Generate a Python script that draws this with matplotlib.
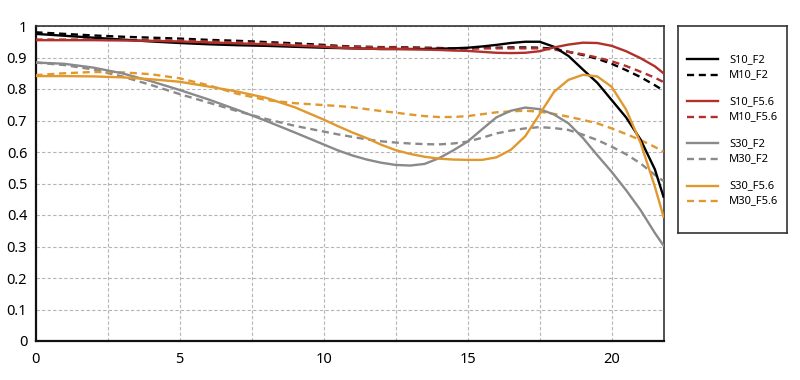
import numpy as np
import matplotlib
matplotlib.use("Agg")
import matplotlib.pyplot as plt
from matplotlib.ticker import MultipleLocator
from matplotlib.lines import Line2D

plt.rcParams["font.family"] = ["Noto Sans", "DejaVu Sans"]

# image height (mm) sampled along the field
x = [0, 1, 2, 3, 4, 5, 6, 7, 8, 9, 10, 10.5, 11, 11.5, 12, 12.5, 13, 13.5, 14, 14.5,
     15, 15.5, 16, 16.5, 17, 17.5, 18, 18.5, 19, 19.5, 20, 20.5, 21, 21.5, 21.8]

s10_f2 = [0.975, 0.969, 0.963, 0.957, 0.951, 0.946, 0.942, 0.939, 0.937, 0.934, 0.931,
          0.930, 0.929, 0.928, 0.927, 0.927, 0.927, 0.927, 0.928, 0.929, 0.931, 0.935,
          0.940, 0.946, 0.950, 0.950, 0.934, 0.905, 0.862, 0.820, 0.765, 0.710, 0.640,
          0.545, 0.458]
m10_f2 = [0.980, 0.975, 0.970, 0.966, 0.963, 0.960, 0.956, 0.953, 0.949, 0.945, 0.940,
          0.937, 0.935, 0.934, 0.933, 0.933, 0.932, 0.931, 0.930, 0.929, 0.929, 0.930,
          0.931, 0.932, 0.932, 0.931, 0.928, 0.918, 0.908, 0.896, 0.880, 0.860, 0.838,
          0.812, 0.795]
s10_f56 = [0.955, 0.955, 0.955, 0.954, 0.953, 0.951, 0.948, 0.945, 0.942, 0.938, 0.934,
           0.931, 0.929, 0.928, 0.927, 0.927, 0.926, 0.925, 0.924, 0.922, 0.921, 0.918,
           0.915, 0.914, 0.915, 0.920, 0.932, 0.941, 0.947, 0.946, 0.937, 0.920, 0.898,
           0.872, 0.850]
m10_f56 = [0.957, 0.957, 0.957, 0.956, 0.955, 0.954, 0.951, 0.948, 0.945, 0.941, 0.937,
           0.935, 0.934, 0.933, 0.932, 0.932, 0.931, 0.930, 0.930, 0.929, 0.929, 0.929,
           0.929, 0.929, 0.929, 0.929, 0.925, 0.918, 0.910, 0.900, 0.888, 0.873, 0.855,
           0.836, 0.822]
s30_f2 = [0.884, 0.880, 0.868, 0.850, 0.825, 0.797, 0.767, 0.734, 0.699, 0.662, 0.624,
          0.605, 0.589, 0.576, 0.566, 0.559, 0.557, 0.562, 0.580, 0.605, 0.633, 0.672,
          0.710, 0.731, 0.741, 0.736, 0.719, 0.691, 0.645, 0.590, 0.537, 0.479, 0.416,
          0.343, 0.303]
m30_f2 = [0.884, 0.876, 0.862, 0.840, 0.813, 0.784, 0.757, 0.730, 0.705, 0.683, 0.665,
          0.656, 0.648, 0.640, 0.634, 0.630, 0.627, 0.625, 0.624, 0.627, 0.633, 0.645,
          0.659, 0.668, 0.675, 0.679, 0.676, 0.670, 0.655, 0.638, 0.617, 0.593, 0.564,
          0.527, 0.508]
s30_f56 = [0.841, 0.841, 0.840, 0.837, 0.831, 0.823, 0.808, 0.792, 0.772, 0.742, 0.703,
           0.682, 0.662, 0.644, 0.623, 0.606, 0.594, 0.585, 0.579, 0.576, 0.575, 0.575,
           0.583, 0.607, 0.650, 0.720, 0.791, 0.829, 0.845, 0.840, 0.807, 0.735, 0.630,
           0.490, 0.395]
m30_f56 = [0.844, 0.850, 0.854, 0.853, 0.847, 0.834, 0.812, 0.785, 0.765, 0.755, 0.749,
           0.746, 0.742, 0.736, 0.730, 0.725, 0.719, 0.714, 0.711, 0.711, 0.714, 0.720,
           0.726, 0.729, 0.731, 0.728, 0.721, 0.712, 0.702, 0.691, 0.675, 0.657, 0.638,
           0.616, 0.601]

labels = ["S10_F2", "M10_F2", "S10_F5.6", "M10_F5.6",
          "S30_F2", "M30_F2", "S30_F5.6", "M30_F5.6"]
series = [s10_f2, m10_f2, s10_f56, m10_f56, s30_f2, m30_f2, s30_f56, m30_f56]
yticks = [0, 0.1, 0.2, 0.3, 0.4, 0.5, 0.6, 0.7, 0.8, 0.9, 1.0]
ylabels = ["0", "0.1", "0.2", "0.3", "0.4", "0.5", "0.6", "0.7", "0.8", "0.9", "1"]
COLS = ["#000000", "#b0302b", "#8a8a8a", "#e0982f"]

fig = plt.figure(figsize=(8, 3.8), dpi=100)
ax = fig.add_axes([35.5 / 800, 39 / 380, 628 / 800, 315 / 380])

DASH = (0, (3, 2))
for i, (lab, ys) in enumerate(zip(labels, series)):
    ax.plot(x, ys, color=COLS[i // 2], lw=1.7, solid_joinstyle="round",
            linestyle="-" if i % 2 == 0 else DASH, zorder=3 + (i % 2 == 0))

ax.set_xlim(0, 21.8)
ax.set_ylim(0, 1)
ax.xaxis.set_major_locator(MultipleLocator(5))
ax.xaxis.set_minor_locator(MultipleLocator(2.5))
ax.set_yticks(yticks, ylabels)
ax.grid(True, which="both", color="#b5b5b5", lw=0.8, linestyle=(0, (3, 2)))
ax.tick_params(which="both", length=0, labelsize=10.5, pad=8)
ax.tick_params(axis="y", pad=6)
for side in ["left", "bottom"]:
    ax.spines[side].set_linewidth(1.6)
    ax.spines[side].set_color("#111111")
for side in ["top", "right"]:
    ax.spines[side].set_linewidth(1.2)
    ax.spines[side].set_color("#333333")

# legend box on the right
lg = fig.add_axes([678 / 800, 147 / 380, 109 / 800, 207 / 380])
lg.set_xlim(0, 1); lg.set_ylim(0, 1)
lg.set_xticks([]); lg.set_yticks([])
for s in lg.spines.values():
    s.set_linewidth(1.2); s.set_color("#333333")
for i, lab in enumerate(labels):
    yy = 0.839 - (i // 2) * 0.2033 - (i % 2) * 0.075
    lg.add_line(Line2D([0.083, 0.367], [yy, yy], color=COLS[i // 2], lw=1.7,
                       linestyle="-" if i % 2 == 0 else DASH))
    lg.text(0.468, yy, lab, va="center", ha="left", fontsize=8)

fig.savefig("out.png", dpi=100)
